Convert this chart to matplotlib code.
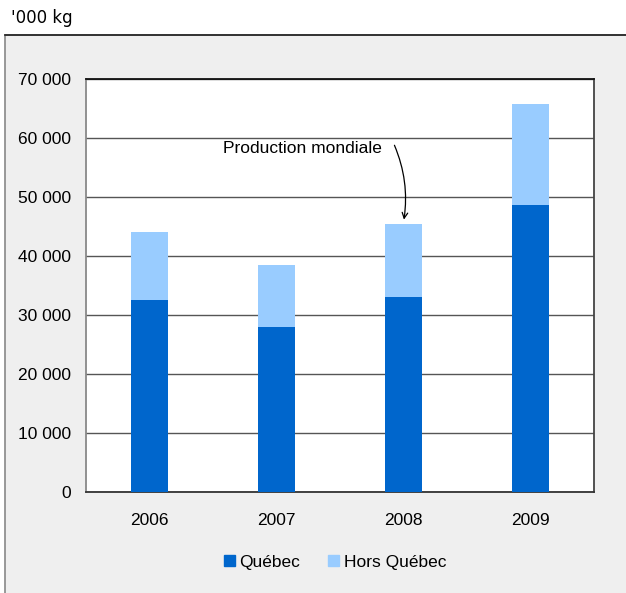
import matplotlib.pyplot as plt
from matplotlib.patches import Patch, Rectangle

# Data ('000 kg)
years = ['2006', '2007', '2008', '2009']
quebec = [32500, 28000, 33000, 48600]
hors_quebec = [11600, 10500, 12400, 17100]

blue = '#0066CC'
light = '#99CCFF'

plt.rcParams['font.family'] = ['Liberation Sans', 'DejaVu Sans']

fig = plt.figure(figsize=(6.26, 5.93), dpi=100)
fig.patch.set_facecolor('white')

# gray frame behind the chart
frame = Rectangle((5 / 626, -0.01), 1.0, (593 - 35) / 593 + 0.01, transform=fig.transFigure,
                  facecolor='#efefef', edgecolor='#888888', linewidth=1.2, zorder=-10)
fig.patches.append(frame)
fig.add_artist(plt.Line2D([5 / 626, 1], [(593 - 35) / 593] * 2, color='#222222', lw=1.2,
                          transform=fig.transFigure, zorder=-9))
fig.text(11 / 626, 1 - 18 / 593, "'000 kg", family='DejaVu Sans', fontsize=12,
         va='center', ha='left')

ax = fig.add_axes([86 / 626, 101 / 593, 508 / 626, 413 / 593])
ax.set_facecolor('white')

x = range(len(years))
ax.bar(x, quebec, width=0.29, color=blue, zorder=3, label='Québec')
ax.bar(x, hors_quebec, width=0.29, bottom=quebec, color=light, zorder=3, label='Hors Québec')

ax.set_xlim(-0.5, 3.5)
ax.set_ylim(0, 70000)
ax.set_yticks(range(0, 70001, 10000))
ax.set_yticklabels([f'{v:,}'.replace(',', ' ') for v in range(0, 70001, 10000)])
ax.set_xticks(list(x))
ax.set_xticklabels(years)
ax.tick_params(length=0, labelsize=12.5)
ax.tick_params(axis='y', pad=11)
ax.tick_params(axis='x', pad=15)
ax.yaxis.grid(True, color='#555555', lw=1, zorder=1)

ax.spines['top'].set_color('#111111')
ax.spines['left'].set_color('#888888')
ax.spines['right'].set_color('#444444')
ax.spines['bottom'].set_color('#333333')
for s in ax.spines.values():
    s.set_linewidth(1.3)

ax.text(1.83, 58300, 'Production mondiale', ha='right', va='center', fontsize=12.5)
ax.annotate('', xy=(2.0, 45700), xytext=(1.92, 59200),
            arrowprops=dict(arrowstyle='->', color='black', lw=0.9,
                            connectionstyle='arc3,rad=-0.15'))

handles = [Patch(color=blue, label='Québec'), Patch(color=light, label='Hors Québec')]
fig.legend(handles=handles, loc='center', bbox_to_anchor=(335 / 626, 1 - 562 / 593),
           ncol=2, frameon=False, fontsize=12.5, handlelength=0.65, handleheight=0.65,
           handletextpad=0.25, columnspacing=1.6)

fig.savefig('out.png', dpi=100)
